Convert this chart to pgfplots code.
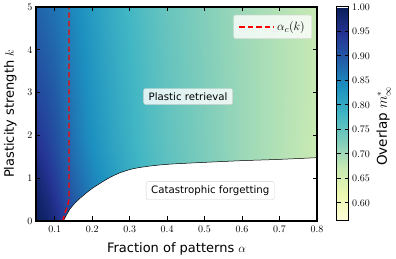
\documentclass[border=0pt]{standalone}
\usepackage{fontspec}
\setmainfont{DejaVu Sans}
\setsansfont{DejaVu Sans}
\usepackage{pgfplots}
\usepackage{pgfplotstable}
\pgfplotsset{compat=1.18}
\pgfplotsset{colormap={ylgnbu}{rgb255=(255,255,217) rgb255=(237,248,177) rgb255=(199,233,180) rgb255=(127,205,187) rgb255=(65,182,196) rgb255=(29,145,192) rgb255=(34,94,168) rgb255=(37,52,148) rgb255=(8,29,88)}}
\pgfplotstableread{
a k m
0.05 0 0.995
0.075 0 0.985
0.1 0 0.962
0.125 0 0.935
0.15 0 0.910
0.175 0 0.890
0.2 0 0.870
0.25 0 0.838
0.3 0 0.810
0.35 0 0.786
0.4 0 0.766
0.5 0 0.735
0.6 0 0.709
0.7 0 0.687
0.8 0 0.666
0.05 0.5 0.988
0.075 0.5 0.972
0.1 0.5 0.948
0.125 0.5 0.920
0.15 0.5 0.897
0.175 0.5 0.877
0.2 0.5 0.860
0.25 0.5 0.830
0.3 0.5 0.803
0.35 0.5 0.781
0.4 0.5 0.762
0.5 0.5 0.733
0.6 0.5 0.708
0.7 0.5 0.687
0.8 0.5 0.667
0.05 1 0.975
0.075 1 0.958
0.1 1 0.933
0.125 1 0.907
0.15 1 0.885
0.175 1 0.866
0.2 1 0.850
0.25 1 0.822
0.3 1 0.797
0.35 1 0.776
0.4 1 0.758
0.5 1 0.731
0.6 1 0.707
0.7 1 0.687
0.8 1 0.668
0.05 1.5 0.960
0.075 1.5 0.943
0.1 1.5 0.920
0.125 1.5 0.897
0.15 1.5 0.875
0.175 1.5 0.857
0.2 1.5 0.841
0.25 1.5 0.815
0.3 1.5 0.792
0.35 1.5 0.772
0.4 1.5 0.755
0.5 1.5 0.729
0.6 1.5 0.706
0.7 1.5 0.687
0.8 1.5 0.669
0.05 2 0.945
0.075 2 0.930
0.1 2 0.910
0.125 2 0.889
0.15 2 0.868
0.175 2 0.850
0.2 2 0.835
0.25 2 0.810
0.3 2 0.788
0.35 2 0.769
0.4 2 0.753
0.5 2 0.728
0.6 2 0.706
0.7 2 0.688
0.8 2 0.670
0.05 2.5 0.932
0.075 2.5 0.920
0.1 2.5 0.903
0.125 2.5 0.883
0.15 2.5 0.864
0.175 2.5 0.847
0.2 2.5 0.832
0.25 2.5 0.808
0.3 2.5 0.787
0.35 2.5 0.768
0.4 2.5 0.752
0.5 2.5 0.727
0.6 2.5 0.706
0.7 2.5 0.688
0.8 2.5 0.671
0.05 3 0.920
0.075 3 0.910
0.1 3 0.895
0.125 3 0.877
0.15 3 0.860
0.175 3 0.844
0.2 3 0.830
0.25 3 0.806
0.3 3 0.785
0.35 3 0.767
0.4 3 0.751
0.5 3 0.727
0.6 3 0.706
0.7 3 0.688
0.8 3 0.672
0.05 4 0.900
0.075 4 0.892
0.1 4 0.880
0.125 4 0.866
0.15 4 0.852
0.175 4 0.838
0.2 4 0.825
0.25 4 0.802
0.3 4 0.782
0.35 4 0.765
0.4 4 0.749
0.5 4 0.725
0.6 4 0.705
0.7 4 0.688
0.8 4 0.672
0.05 5 0.885
0.075 5 0.878
0.1 5 0.868
0.125 5 0.857
0.15 5 0.845
0.175 5 0.832
0.2 5 0.820
0.25 5 0.798
0.3 5 0.779
0.35 5 0.762
0.4 5 0.747
0.5 5 0.724
0.6 5 0.704
0.7 5 0.687
0.8 5 0.672
}\overlap
\begin{document}
\begin{tikzpicture}
\begin{axis}[
  at={(0,0)}, anchor=south west,
  scale only axis, width=281pt, height=214pt,
  xmin=0.05, xmax=0.8, ymin=0, ymax=5,
  xtick={0.1,0.2,0.3,0.4,0.5,0.6,0.7,0.8},
  ytick={0,1,2,3,4,5},
  xticklabel style={/pgf/number format/fixed, yshift=-2pt},
  tick label style={font=\fontsize{10.3}{11}\selectfont},
  tick align=inside,
  major tick length=4.5pt,
  every tick/.style={black, line width=1.1pt},
  axis line style={line width=1.3pt},
  xlabel={Fraction of patterns $\alpha$},
  ylabel={Plasticity strength $k$},
  label style={font=\fontsize{13}{15}\selectfont},
  xlabel style={yshift=-3pt},
  ylabel style={yshift=4pt},
  colormap name=ylgnbu,
  point meta min=0.563, point meta max=1.0,
  colorbar,
  colorbar style={
    at={(parent axis.north east)}, anchor=north west, xshift=11pt,
    scale only axis, width=12pt, height=214pt,
    ytick={0.6,0.65,0.7,0.75,0.8,0.85,0.9,0.95,1.0},
    yticklabel style={/pgf/number format/fixed, /pgf/number format/fixed zerofill, /pgf/number format/precision=2, font=\fontsize{10.3}{11}\selectfont},
    tick align=inside, major tick length=4pt,
    every tick/.style={black, line width=1pt},
    axis line style={line width=1pt},
    ylabel={Overlap $m^*_\infty$},
    ylabel style={font=\fontsize{13.5}{15}\selectfont, xshift=-12pt},
  },
  legend style={at={(0.982,0.963)}, anchor=north east, draw=gray!30, rounded corners=2pt, fill=white, fill opacity=0.8, text opacity=1, font=\fontsize{12.5}{13}\selectfont, inner xsep=5pt, inner ysep=4.5pt},
  legend image code/.code={\path (0pt,0pt) -- (35pt,0pt); \draw[#1] (0pt,0pt) -- (27pt,0pt);},
  axis on top,
]
\addplot[surf, shader=interp, mesh/cols=15, point meta=\thisrow{m}, forget plot] table[x=a, y=k] {\overlap};
\addplot[fill=white, draw=none, forget plot] coordinates {(0.123,0) (0.13,0.12) (0.14,0.27) (0.15,0.38) (0.16,0.47) (0.17,0.55) (0.185,0.66) (0.2,0.76) (0.23,0.93) (0.25,1.03) (0.275,1.13) (0.3,1.2) (0.32,1.24) (0.36,1.29) (0.41,1.33) (0.5,1.37) (0.6,1.41) (0.7,1.44) (0.8,1.48) (0.8,0)} -- cycle;
\addplot[black, line width=0.5pt, smooth, forget plot] coordinates {(0.123,0) (0.13,0.12) (0.14,0.27) (0.15,0.38) (0.16,0.47) (0.17,0.55) (0.185,0.66) (0.2,0.76) (0.23,0.93) (0.25,1.03) (0.275,1.13) (0.3,1.2) (0.32,1.24) (0.36,1.29) (0.41,1.33) (0.5,1.37) (0.6,1.41) (0.7,1.44) (0.8,1.48)};
\addplot[red, line width=1.4pt, dash pattern=on 5.5pt off 3pt] coordinates {(0.121,0) (0.128,0.2) (0.134,0.35) (0.138,0.5) (0.138,5)};
\addlegendentry{$\alpha_c(k)$}
\node[draw=gray!35, fill=white, fill opacity=0.8, text opacity=1, rounded corners=2pt, font=\fontsize{10.2}{12}\selectfont, inner xsep=5pt, inner ysep=4pt] at (axis cs:0.456,2.91) {Plastic retrieval};
\node[draw=gray!35, fill=white, fill opacity=0.8, text opacity=1, rounded corners=2pt, font=\fontsize{10.2}{12}\selectfont, inner xsep=5pt, inner ysep=4pt] at (axis cs:0.515,0.71) {Catastrophic forgetting};
\end{axis}
\pgfresetboundingbox
\path[use as bounding box] (-36pt,-38pt) rectangle (360pt,221pt);
\end{tikzpicture}
\end{document}
